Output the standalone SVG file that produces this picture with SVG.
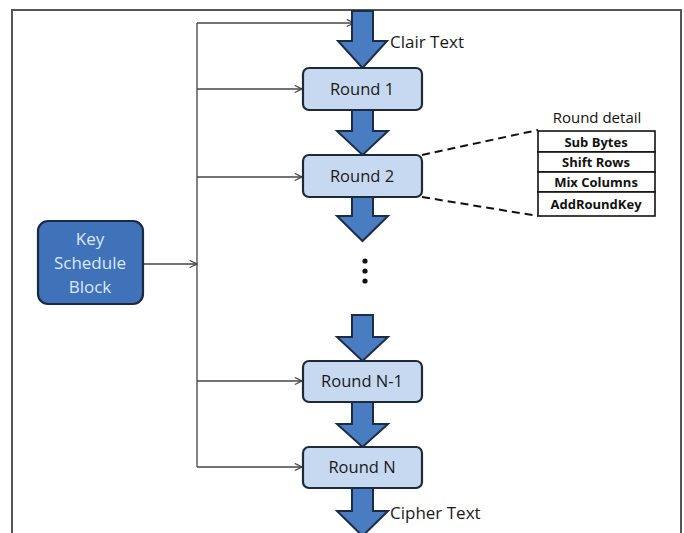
<svg xmlns="http://www.w3.org/2000/svg" width="684" height="533" viewBox="0 0 684 533">
<defs>
<style>
.frame{fill:none;stroke:#555;stroke-width:2}
.bus{fill:none;stroke:#444;stroke-width:1.3}
.round rect{fill:#c6d9f0;stroke:#1e2a38;stroke-width:2.2}
.round text{font-family:"Open Sans","Liberation Sans",sans-serif;font-size:16.5px;fill:#1a1a1a;text-anchor:middle}
.big{fill:#4a7cc2;stroke:#1c2c45;stroke-width:2;stroke-linejoin:miter}
.lbl{font-family:"Open Sans","Liberation Sans",sans-serif;font-size:17px;fill:#1a1a1a}
.key rect{fill:#3f72b8;stroke:#1b2a40;stroke-width:2.2}
.key text{font-family:"Open Sans","Liberation Sans",sans-serif;font-size:17px;fill:#dbe8f8;text-anchor:middle}
.tbl rect{fill:#fff;stroke:#111;stroke-width:1.6}
.tbl text{font-family:"Open Sans","Liberation Sans",sans-serif;font-size:13px;font-weight:bold;fill:#111;text-anchor:middle}
.dash{fill:none;stroke:#111;stroke-width:2;stroke-dasharray:8 5}
</style>
<marker id="ah" viewBox="0 0 10 10" refX="9" refY="5" markerWidth="9" markerHeight="9" markerUnits="userSpaceOnUse" orient="auto">
<path d="M1,1 L9,5 L1,9" fill="none" stroke="#444" stroke-width="1.3"/>
</marker>
</defs>
<rect width="684" height="533" fill="#fff"/>
<path class="frame" d="M12,545 V10 H681 V545"/>

<g id="connectors">
<path class="bus" d="M197,23 V467"/>
<path class="bus" d="M197,23 H354" marker-end="url(#ah)"/>
<path class="bus" d="M197,89 H302" marker-end="url(#ah)"/>
<path class="bus" d="M197,177 H302" marker-end="url(#ah)"/>
<path class="bus" d="M197,381 H302" marker-end="url(#ah)"/>
<path class="bus" d="M197,467 H302" marker-end="url(#ah)"/>
<path class="bus" d="M143,264 H197" marker-end="url(#ah)"/>
<path class="dash" d="M422,155 L538,130"/>
<path class="dash" d="M422,197 L538,216"/>
<path class="big" d="M352,11 H373 V41 H387 L362.5,68 L338,41 H352 Z"/>
<path class="big" d="M352,110 H373 V131 H388 L362.5,155 L337,131 H352 Z"/>
<path class="big" d="M352,197 H373 V216 H388 L362.5,241 L337,216 H352 Z"/>
<path class="big" d="M352,315 H373 V337 H388 L362.5,361 L337,337 H352 Z"/>
<path class="big" d="M352,402 H373 V424 H388 L362.5,447 L337,424 H352 Z"/>
<path class="big" d="M352,488 H373 V511 H388 L362.5,536 L337,511 H352 Z"/>
<circle cx="365" cy="261" r="2.6" fill="#111"/>
<circle cx="365" cy="271" r="2.6" fill="#111"/>
<circle cx="365" cy="281" r="2.6" fill="#111"/>
</g>

<text class="lbl" x="390" y="48">Clair Text</text>
<text class="lbl" x="390" y="519">Cipher Text</text>

<g id="round1" class="round"><rect x="303" y="68" width="119" height="42" rx="6"/><text x="362" y="95">Round 1</text></g>
<g id="round2" class="round"><rect x="303" y="155" width="119" height="42" rx="6"/><text x="362" y="182">Round 2</text></g>
<g id="roundN1" class="round"><rect x="303" y="361" width="119" height="41" rx="6"/><text x="362" y="387">Round N-1</text></g>
<g id="roundN" class="round"><rect x="303" y="447" width="119" height="41" rx="6"/><text x="362" y="473">Round N</text></g>

<g id="key" class="key"><rect x="38" y="221" width="105" height="83" rx="10"/>
<text x="90" y="245">Key</text><text x="90" y="269">Schedule</text><text x="90" y="293">Block</text></g>

<g id="detail" class="tbl">
<text x="597" y="123" style="font-weight:normal;font-size:15px">Round detail</text>
<rect x="538" y="131" width="117" height="21"/>
<rect x="538" y="152" width="117" height="20"/>
<rect x="538" y="172" width="117" height="20"/>
<rect x="538" y="192" width="117" height="24"/>
<text x="596" y="146.5">Sub Bytes</text>
<text x="596" y="167">Shift Rows</text>
<text x="596" y="187">Mix Columns</text>
<text x="596" y="209">AddRoundKey</text>
</g>
</svg>
